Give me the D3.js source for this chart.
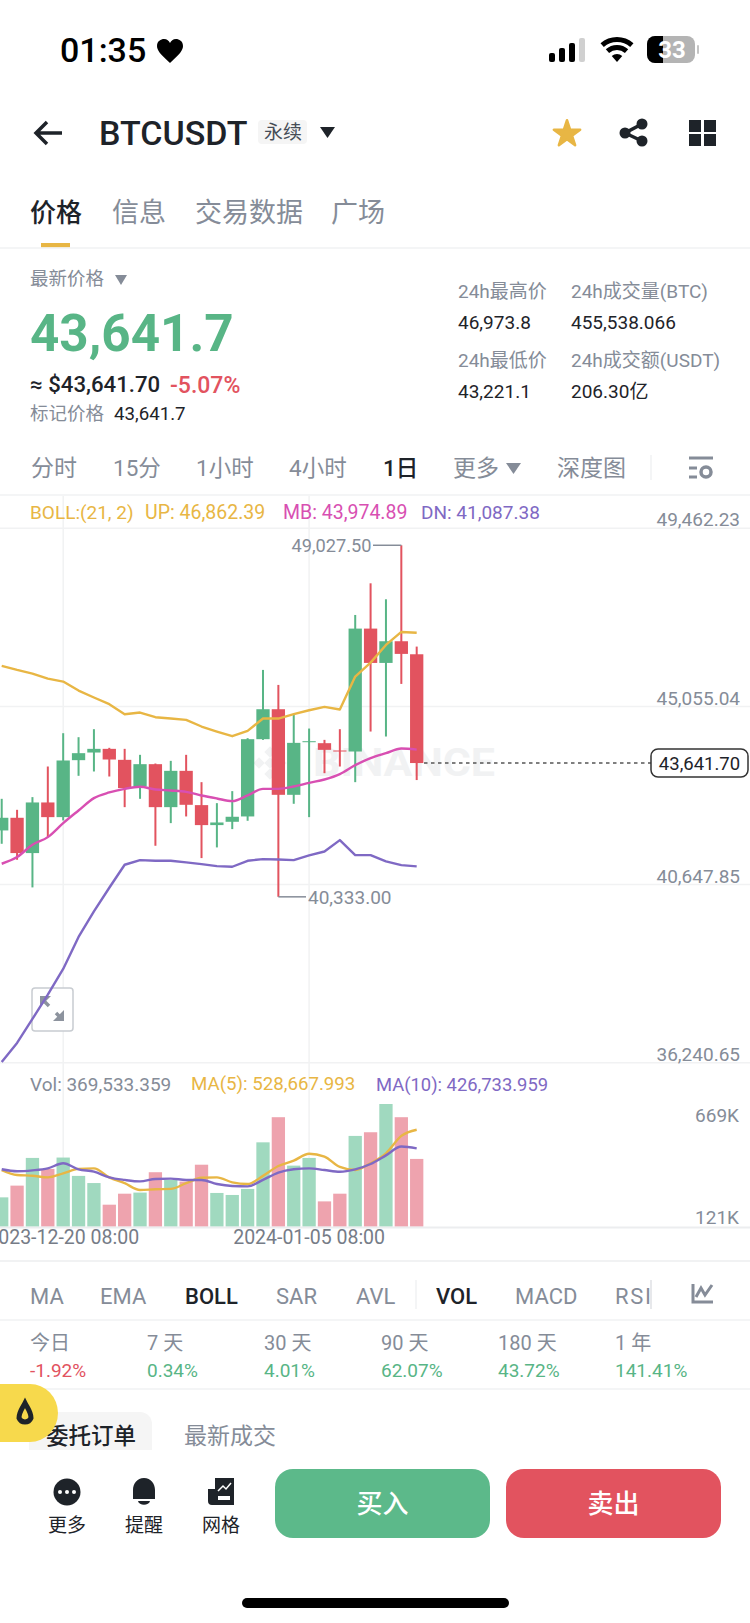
<!DOCTYPE html>
<html>
<head>
<meta charset="utf-8">
<script src="https://cdn.jsdelivr.net/npm/d3@7"></script>
<style>
  html, body { margin: 0; padding: 0; background: #fff; }
  svg { display: block; }
  text { font-family: Roboto, "Noto Sans CJK SC", sans-serif; }
</style>
</head>
<body>
<div id="chart"></div>
<script>
// daily candles
var dates = ["2023-12-16","2023-12-17","2023-12-18","2023-12-19","2023-12-20","2023-12-21","2023-12-22",
    "2023-12-23","2023-12-24","2023-12-25","2023-12-26","2023-12-27","2023-12-28","2023-12-29","2023-12-30",
    "2023-12-31","2024-01-01","2024-01-02","2024-01-03","2024-01-04","2024-01-05","2024-01-06","2024-01-07",
    "2024-01-08","2024-01-09","2024-01-10","2024-01-11","2024-01-12"];
var opens = [41975,42288,41415,42667,42304,43713,43902,43993,43721,43062,43614,42551,43449,42601,42107,
    42189,42321,44232,44973,42856,44157,44133,43952,43927,46967,46118,46654,46332];
var closes = [42288,41415,42667,42304,43705,43886,43993,43729,43021,43614,42551,43449,42609,42107,42172,
    42313,44232,44973,42856,44141,44182,43968,43927,46967,46118,46654,46341,43641.7];
var highs = [42757,42485,42799,43556,44380,44281,44479,44018,43993,43845,43630,43696,43845,43169,42650,
    42947,44257,45945,45574,44833,44495,44215,44479,47304,48087,47692,49027.5,46522];
var lows = [41645,41250,40566,41810,42222,43326,43433,43309,42551,42757,41596,42156,42321,41291,41555,
    42008,42214,44215,40333,42634,42304,43391,43556,43169,44421,44298,45599,43221.1];

var bollUp = [46044,45945,45855,45731,45657,45435,45262,45097,44850,44891,44776,44743,44710,44545,44421,
    44306,44438,44742,44742,44850,44948,45031,44965,45780,46126,46563,46884,46862.39];
var bollMb = [41151,41316,41621,41810,42156,42469,42774,42914,43004,43054,42988,42963,42930,42840,42766,
    42700,42840,43004,43004,43062,43152,43235,43367,43589,43762,43886,44001,43974.89];
var bollDn = [36250,36720,37313,37914,38549,39340,39972,40558,41126,41242,41225,41225,41184,41143,41093,
    41077,41225,41266,41258,41241,41357,41455,41736,41365,41365,41208,41118,41087.38];

var volumes = [160000,224000,375000,315000,377000,277000,238000,120000,180000,186000,297000,255000,246000,
    338000,184000,173000,206000,460000,597000,333000,375000,138000,180000,495000,515000,669000,597000,369533];
var volMa5 = [309000,282000,278000,269000,291000,315000,318000,269000,237000,200000,204000,206000,237000,
    267000,269000,242000,233000,277000,331000,360000,398000,382000,326000,309000,346000,400000,495000,528668];
var volMa10 = [313000,302000,307000,318000,346000,313000,300000,269000,255000,247000,260000,262000,255000,
    255000,233000,222000,220000,255000,295000,313000,318000,309000,300000,313000,342000,389000,437000,426734];

var priceTicks = [49462.23, 45055.04, 40647.85, 36240.65];
var volTicks = ["669K", "121K"];
var dateTicks = ["2023-12-20", "2024-01-05"];
var lastPrice = 43641.7, topPrice = 49027.5, bottomPrice = 40333;

var green = "#58b586", red = "#e2535f", volGreen = "#a0d9bf", volRed = "#eea3ae";
var gold = "#e8b644", pink = "#d84fb2", purple = "#7f69c4";
var dark = "#1e2329", gray = "#858c98", grid = "#f1f2f3";

var svg = d3.select("#chart").append("svg").attr("width", 750).attr("height", 1623);

function label(x, y, str, size, color, weight, anchor) {
    return svg.append("text")
        .attr("x", x).attr("y", y)
        .attr("dominant-baseline", "central")
        .attr("text-anchor", anchor || "start")
        .attr("font-size", size)
        .attr("font-weight", weight || 400)
        .attr("fill", color)
        .text(str);
}
function shape(d, fill) {
    return svg.append("path").attr("d", d).attr("fill", fill);
}
function hline(y, x1, x2, color, w) {
    svg.append("line").attr("x1", x1).attr("x2", x2).attr("y1", y).attr("y2", y)
        .attr("stroke", color).attr("stroke-width", w || 1.5);
}
function vline(x, y1, y2, color, w) {
    svg.append("line").attr("x1", x).attr("x2", x).attr("y1", y1).attr("y2", y2)
        .attr("stroke", color).attr("stroke-width", w || 1.5);
}

// ---- status bar ----
label(60, 50, "01:35", 34, "#000", 500);
shape("M170,63 C160,54 157,50 157,46 C157,41 161,39 164,39 C167,39 169,41 170,43 C171,41 173,39 176,39 C179,39 183,41 183,46 C183,50 180,54 170,63Z", "#000");
[[549, 53], [559, 48], [569, 43], [579, 38]].forEach(function (b, i) {
    svg.append("rect").attr("x", b[0]).attr("y", b[1]).attr("width", 6).attr("height", 62 - b[1])
        .attr("rx", 2).attr("fill", i == 3 ? "#d0d0d0" : "#000");
});
[[0, 8], [12, 17], [20, 25]].forEach(function (r) {
    svg.append("path")
        .attr("transform", "translate(617,62)")
        .attr("d", d3.arc().innerRadius(r[0]).outerRadius(r[1]).startAngle(-0.72).endAngle(0.72)())
        .attr("fill", "#000");
});
svg.append("rect").attr("x", 647).attr("y", 36).attr("width", 48).attr("height", 27).attr("rx", 8).attr("fill", "#b4b4b4");
shape("M655,36 H663 V63 H655 A8,8 0 0 1 647,55 V44 A8,8 0 0 1 655,36Z", "#000");
svg.append("rect").attr("x", 697).attr("y", 45).attr("width", 2).attr("height", 9).attr("rx", 1).attr("fill", "#c4c4c4");
label(672, 50, "33", 24, "#fff", 700, "middle");

// ---- header ----
svg.append("path").attr("d", "M62,133 H37 M47,122 L36,133 L47,144").attr("fill", "none")
    .attr("stroke", dark).attr("stroke-width", 3.5);
label(99, 133, "BTCUSDT", 34, dark, 500);
svg.append("rect").attr("x", 258).attr("y", 120).attr("width", 49).attr("height", 24).attr("rx", 4).attr("fill", "#f5f5f5");
label(283, 132, "永续", 19, "#474d57", 400, "middle");
shape("M320,127 H335 L327.5,138Z", dark);
svg.append("path").attr("transform", "translate(567,134)")
    .attr("d", d3.symbol(d3.symbolStar, 215)()).attr("fill", gold)
    .attr("stroke", gold).attr("stroke-width", 2.5).attr("stroke-linejoin", "round");
svg.append("path").attr("d", "M642,124 L625,133 L642,141").attr("fill", "none").attr("stroke", dark).attr("stroke-width", 3.5);
[[642, 124], [625, 133], [642, 141]].forEach(function (c) {
    svg.append("circle").attr("cx", c[0]).attr("cy", c[1]).attr("r", 5.5).attr("fill", dark);
});
[[689, 120], [704, 120], [689, 134], [704, 134]].forEach(function (c) {
    svg.append("rect").attr("x", c[0]).attr("y", c[1]).attr("width", 12).attr("height", 12).attr("fill", dark);
});

// ---- page tabs ----
label(30, 213, "价格", 26, dark, 500);
label(112, 213, "信息", 27, gray);
label(195, 213, "交易数据", 27, gray);
label(331, 213, "广场", 27, gray);
svg.append("rect").attr("x", 41).attr("y", 243).attr("width", 29).attr("height", 4.5).attr("fill", gold);
hline(248, 0, 750, grid);

// ---- price block ----
label(30, 279, "最新价格", 18.5, gray);
shape("M115,275 H127 L121,285Z", gray);
label(30, 333, "43,641.7", 51.2, green, 700);
label(30, 384, "≈ $43,641.70", 22.2, dark, 500);
label(170, 385, "-5.07%", 23, red, 500);
label(30, 414, "标记价格", 18.5, gray);
label(114, 414, "43,641.7", 18.7, dark);
label(458, 291, "24h最高价", 19, gray);
label(571, 291, "24h成交量(BTC)", 19, gray);
label(458, 322, "46,973.8", 19, dark);
label(571, 322, "455,538.066", 19, dark);
label(458, 360, "24h最低价", 19, gray);
label(571, 360, "24h成交额(USDT)", 19, gray);
label(458, 391, "43,221.1", 19, dark);
label(571, 391, "206.30亿", 19, dark);

// ---- interval tabs ----
label(31, 468, "分时", 23, gray);
label(113, 468, "15分", 22.5, gray);
label(196, 468, "1小时", 22.5, gray);
label(289, 468, "4小时", 22.5, gray);
label(383, 468, "1日", 22.5, dark, 500);
label(453, 468, "更多", 23, gray);
shape("M506,463 H521 L513.5,474Z", gray);
label(557, 468, "深度图", 23, gray);
vline(651, 455, 480, grid);
hline(458, 689, 713, gray, 3);
hline(468, 689, 697, gray, 3);
hline(477, 689, 697, gray, 3);
svg.append("circle").attr("cx", 706).attr("cy", 472).attr("r", 5).attr("fill", "none").attr("stroke", gray).attr("stroke-width", 3.5);
hline(495, 0, 750, grid);

// ---- scales ----
var x = d3.scaleBand().domain(dates).range([-5.98, 424.38]).paddingInner(0.135).paddingOuter(0.0675);
var cx = function (d) { return x(d) + x.bandwidth() / 2; };
var y = d3.scaleLinear().domain([36240.65, 49462.23]).range([1062.3, 527.7]);
var yVol = d3.scaleLinear().domain([0, 669000]).range([1226.7, 1104]);

// ---- grid ----
dateTicks.forEach(function (d) { vline(cx(d), 496, 1226, grid); });
var priceAxis = d3.axisRight(y).tickValues(priceTicks).tickSize(750)
    .tickFormat(d3.format(",.2f"));
var axisG = svg.append("g").call(priceAxis);
axisG.select(".domain").remove();
axisG.selectAll("line").attr("stroke", grid).attr("stroke-width", 1.5);
axisG.selectAll("text").attr("x", 740).attr("dy", "-0.1em").attr("text-anchor", "end")
    .attr("font-size", 19).attr("font-family", "Roboto").attr("fill", gray);

// ---- watermark ----
label(313, 763, "BINANCE", 38, "#f1f2f3", 700).attr("textLength", 182).attr("lengthAdjust", "spacingAndGlyphs");
[[270, 752], [270, 774], [259, 763], [281, 763], [270, 763]].forEach(function (c) {
    svg.append("rect").attr("x", c[0] - 4).attr("y", c[1] - 4).attr("width", 8).attr("height", 8)
        .attr("transform", "rotate(45," + c[0] + "," + c[1] + ")").attr("fill", "#f1f2f3");
});

// ---- expand button ----
svg.append("rect").attr("x", 32).attr("y", 988).attr("width", 41).attr("height", 43).attr("rx", 3)
    .attr("fill", "#fff").attr("stroke", "#c8ccd1").attr("stroke-width", 1.5);
svg.append("path").attr("d", "M44,1001 L49,1006 M56,1013 L61,1018").attr("stroke", "#8d939e").attr("stroke-width", 3.5);
shape("M40,996 H51 L40,1007Z", "#8d939e");
shape("M64,1021 H53 L64,1010Z", "#8d939e");

// ---- legend ----
label(30, 512, "BOLL:(21, 2)", 19, gold);
label(145, 512, "UP: 46,862.39", 19.5, gold);
label(283, 512, "MB: 43,974.89", 19.5, pink);
label(421, 512, "DN: 41,087.38", 19, purple);

// ---- candles ----
var candles = svg.append("g").selectAll("g").data(dates).enter().append("g")
    .attr("fill", function (d, i) { return closes[i] >= opens[i] ? green : red; })
    .attr("stroke", "none");
candles.append("rect")
    .attr("x", function (d) { return cx(d) - 1; })
    .attr("width", 2)
    .attr("y", function (d, i) { return y(highs[i]); })
    .attr("height", function (d, i) { return y(lows[i]) - y(highs[i]); });
candles.append("rect")
    .attr("x", function (d) { return x(d); })
    .attr("width", x.bandwidth())
    .attr("y", function (d, i) { return y(Math.max(opens[i], closes[i])); })
    .attr("height", function (d, i) { return Math.abs(y(opens[i]) - y(closes[i])); });

// ---- boll lines ----
var priceLine = d3.line().x(function (d, i) { return cx(dates[i]); }).y(function (d) { return y(d); });
var smoothLine = d3.line().x(function (d, i) { return cx(dates[i]); }).y(function (d) { return y(d); }).curve(d3.curveMonotoneX);
function addLine(gen, values, color) {
    svg.append("path").attr("d", gen(values)).attr("fill", "none").attr("stroke", color)
        .attr("stroke-width", 2.4).attr("stroke-linejoin", "round");
}
addLine(priceLine, bollUp, gold);
addLine(smoothLine, bollMb, pink);
addLine(priceLine, bollDn, purple);

// ---- high / low / last price notes ----
svg.append("path").attr("d", "M373," + y(topPrice) + " H" + cx(dates[26])).attr("stroke", gray).attr("stroke-width", 1.5);
label(371.5, y(topPrice), "49,027.50", 18.2, gray, 400, "end");
svg.append("path").attr("d", "M" + cx(dates[18]) + "," + y(bottomPrice) + " H306").attr("stroke", gray).attr("stroke-width", 1.5);
label(308, y(bottomPrice) + 1, "40,333.00", 19, gray);
svg.append("line").attr("x1", 424).attr("x2", 651).attr("y1", y(lastPrice)).attr("y2", y(lastPrice))
    .attr("stroke", "#555").attr("stroke-width", 1.5).attr("stroke-dasharray", "3.5 3.5");
svg.append("rect").attr("x", 651).attr("y", 749).attr("width", 97).attr("height", 28).attr("rx", 7)
    .attr("fill", "#fff").attr("stroke", "#333").attr("stroke-width", 1.5);
label(699.5, 764, "43,641.70", 18.5, dark, 400, "middle");

// ---- volume ----
label(30, 1084, "Vol: 369,533.359", 19, gray);
label(191, 1084, "MA(5): 528,667.993", 18.7, gold);
label(376, 1084, "MA(10): 426,733.959", 18.4, purple);
label(739, 1115, volTicks[0], 19, gray, 400, "end");
label(739, 1217, volTicks[1], 19, gray, 400, "end");

svg.append("g").selectAll("rect").data(volumes).enter().append("rect")
    .attr("x", function (d, i) { return x(dates[i]); })
    .attr("width", x.bandwidth())
    .attr("y", function (d) { return yVol(d); })
    .attr("height", function (d) { return yVol(0) - yVol(d); })
    .attr("fill", function (d, i) { return closes[i] >= opens[i] ? volGreen : volRed; });
var volLine = d3.line().x(function (d, i) { return cx(dates[i]); }).y(function (d) { return yVol(d); }).curve(d3.curveMonotoneX);
addLine(volLine, volMa5, gold);
addLine(volLine, volMa10, purple);
hline(1227.5, 0, 750, "#ecedef", 2);
dateTicks.forEach(function (d) {
    label(cx(d), 1237, d + " 08:00", 19.5, "#767c87", 400, "middle");
});
hline(1261, 0, 750, grid, 2);

// ---- indicator tabs ----
label(30, 1296, "MA", 22, gray);
label(100, 1296, "EMA", 22, gray);
label(185, 1296, "BOLL", 22, dark, 500);
label(276, 1296, "SAR", 22, gray);
label(356, 1296, "AVL", 22, gray);
vline(416, 1280, 1309, grid);
label(436, 1296, "VOL", 22, dark, 500);
label(515, 1296, "MACD", 22, gray);
label(615, 1296, "RSI", 22, gray).attr("textLength", 36).attr("lengthAdjust", "spacing");
vline(651, 1280, 1309, "#dfe1e4");
svg.append("path").attr("d", "M693,1284 V1302 H713 M696,1297 L701,1288 L705,1295 L712,1285")
    .attr("fill", "none").attr("stroke", gray).attr("stroke-width", 3);
hline(1320, 0, 750, grid);

// ---- period returns ----
var periodNames = ["今日", "7 天", "30 天", "90 天", "180 天", "1 年"];
var periodValues = ["-1.92%", "0.34%", "4.01%", "62.07%", "43.72%", "141.41%"];
periodNames.forEach(function (n, i) {
    label(30 + i * 117, 1343, n, 20, gray);
    label(30 + i * 117, 1370, periodValues[i], 19, i == 0 ? red : green);
});
hline(1389, 0, 750, grid);

// ---- order tabs, cut off by the bottom bar ----
shape("M29,1450 V1424 A12,12 0 0 1 41,1412 H140 A12,12 0 0 1 152,1424 V1450Z", "#f5f5f5");
label(46, 1436, "委托订单", 22.5, dark, 500);
label(184, 1436, "最新成交", 23, gray);
shape("M0,1384 H30 A28,29 0 0 1 58,1413 A28,29 0 0 1 30,1442 H0Z", "#f7d94c");
svg.append("path").attr("d", "M25,1403 C28,1409 31,1412 31,1418 A6.5,6.5 0 0 1 19,1418 C19,1412 22,1409 25,1403Z")
    .attr("fill", "none").attr("stroke", dark).attr("stroke-width", 5);

// ---- bottom bar ----
svg.append("circle").attr("cx", 67).attr("cy", 1492).attr("r", 13.5).attr("fill", dark);
[60, 67, 74].forEach(function (dx) {
    svg.append("circle").attr("cx", dx).attr("cy", 1492).attr("r", 2).attr("fill", "#fff");
});
shape("M144,1478 C137,1478 133,1484 133,1490 V1499 H155 V1490 C155,1484 151,1478 144,1478Z M138,1501 H150 C149,1506 139,1506 138,1501Z", dark);
shape("M215,1478 H234 V1505 H212 A4,4 0 0 1 208,1501 V1489 H215Z", dark);
svg.append("path").attr("d", "M218,1491 L223,1486 L226,1489 L231,1483").attr("fill", "none").attr("stroke", "#fff").attr("stroke-width", 1.5);
svg.append("rect").attr("x", 218).attr("y", 1496).attr("width", 12).attr("height", 4).attr("fill", "#fff");
label(67, 1525, "更多", 19, dark, 400, "middle");
label(144, 1525, "提醒", 19, dark, 400, "middle");
label(221, 1525, "网格", 19, dark, 400, "middle");
svg.append("rect").attr("x", 275).attr("y", 1469).attr("width", 215).attr("height", 69).attr("rx", 18).attr("fill", "#5cb98a");
label(382.5, 1504, "买入", 26, "#fff", 500, "middle");
svg.append("rect").attr("x", 506).attr("y", 1469).attr("width", 215).attr("height", 69).attr("rx", 18).attr("fill", "#e2535f");
label(613.5, 1504, "卖出", 26, "#fff", 500, "middle");
svg.append("rect").attr("x", 242).attr("y", 1598).attr("width", 267).attr("height", 10).attr("rx", 5).attr("fill", "#000");
</script>
</body>
</html>
